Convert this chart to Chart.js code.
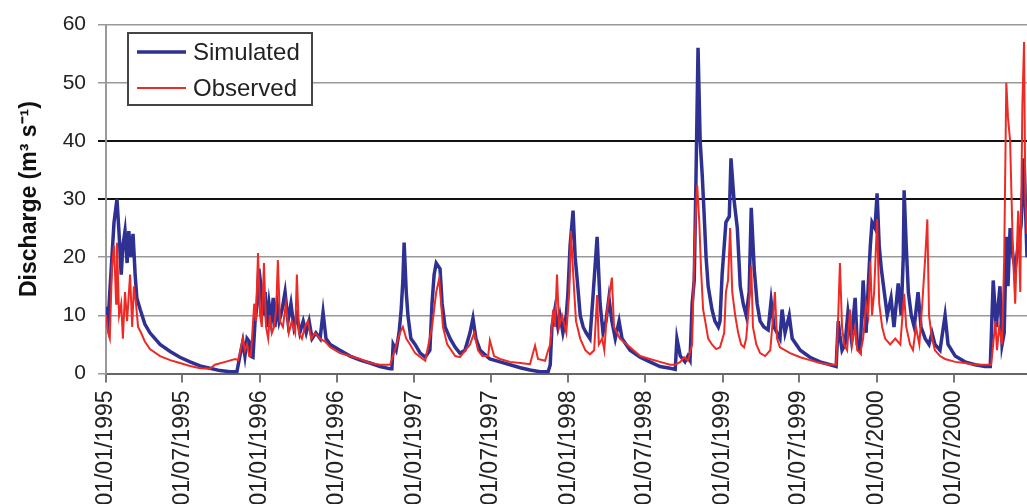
<!DOCTYPE html>
<html>
<head>
  <meta charset="UTF-8">
  <title>Discharge - simulated vs observed</title>
  <script src="https://cdn.jsdelivr.net/npm/chart.js"></script>
  <style>
    body {
      margin: 0;
      background: #fff;
      overflow: hidden;
    }
    .wrap {
      position: relative;
      width: 1027px;
      height: 520px;
    }
  </style>
</head>
<body>
  <div class="wrap"><canvas id="flowChart"></canvas></div>

  <script>
    // x values are days since 01/01/1995
    const tickDays = [0, 181, 365, 546, 730, 911, 1095, 1276, 1460, 1641, 1826, 2008];
    const tickLabels = ['01/01/1995', '01/07/1995', '01/01/1996', '01/07/1996', '01/01/1997', '01/07/1997',
      '01/01/1998', '01/07/1998', '01/01/1999', '01/07/1999', '01/01/2000', '01/07/2000'];
    const yTicks = [0, 10, 20, 30, 40, 50, 60];

    // [day, discharge m3/s]
    const simulated = [
      [0,11.5],[5,9],[9,14],[14,20],[19,26],[26,30],[31,24],[36,17],[40,22],[45,24.5],[50,19],[54,24.5],[59,20],[64,24],[69,17],[73,13],[81,11],[92,8.5],[104,7],[128,5],[152,3.8],[175,2.8],[199,2],[223,1.3],[246,0.9],[270,0.5],[294,0.3],[310,0.3],[317,3],[324,5.5],[329,3],[334,6],[339,5.5],[343,3],[348,2.8],[353,9],[358,12],[362,18],
      [367,15],[372,10],[377,14],[381,8],[386,12],[391,9],[396,13],[400,8],[405,12],[410,9],[417,11],[424,14],[431,9],[438,12],[445,8],[452,10],[459,7],[467,9],[474,7],[481,9],[488,6],[497,7],[507,6],[514,10.5],[521,6],[531,5],[554,4],[578,3],[602,2.3],[625,1.8],[649,1.2],[673,0.8],[677,0.8],[680,5],[687,4],[694,7],[699,11],[703,16],[706,22.5],[711,14],[715,10],[722,6],
      [732,5],[744,3.5],[756,2.8],[767,4],[772,12],[777,17],[782,19],[791,18],[796,12],[803,8],[815,6],[827,4.5],[838,3.5],[850,4],[862,7],[869,9.5],[876,6],[886,4],[909,2.5],[933,2],[957,1.5],[981,1],[1004,0.6],[1028,0.3],[1047,0.3],[1052,1.5],[1056,8],[1063,11],[1070,8],[1075,10],[1082,7],[1090,10],[1094,14],
      [1099,22],[1106,28],[1111,20],[1116,16],[1123,10],[1130,8],[1137,7],[1146,6],[1153,13],[1163,23.5],[1170,12],[1177,7],[1184,9],[1191,13],[1198,9],[1206,6],[1215,9],[1222,6],[1241,4],[1265,2.8],[1288,2],[1312,1.2],[1336,0.9],[1348,0.7],[1352,6],[1360,3],[1371,2],[1378,3],[1383,2.3],[1388,12],[1393,16],[1397,33],[1402,56],[1407,40],[1412,34],[1416,28],[1421,20],[1426,15],[1435,11],[1442,9],[1450,8],
      [1454,9],[1459,17],[1464,22],[1468,26],[1476,27],[1480,37],[1487,30],[1495,25],[1502,15],[1509,12],[1516,10],[1523,14],[1528,28.5],[1535,18],[1542,12],[1549,9],[1558,8],[1568,7.5],[1575,12.5],[1582,8],[1589,7],[1596,6],[1601,11],[1608,7],[1618,10],[1625,6],[1644,4],[1667,2.8],[1691,2],[1715,1.5],[1729,1.2],[1734,9],[1738,6.5],[1743,4],[1750,5],[1757,10.5],[1765,6],[1774,13],[1779,5],[1786,4],[1793,16],[1800,7],[1805,15],[1810,22],[1814,26],[1821,25],[1826,31],
      [1831,22],[1836,18],[1843,14],[1850,10],[1859,13],[1866,8],[1876,15.5],[1883,10],[1888,20],[1890,31.5],[1895,22],[1900,14],[1907,10],[1914,8],[1923,14],[1930,8],[1940,6],[1949,5],[1956,7],[1963,5],[1975,4],[1987,10],[1994,5],[2011,3],[2034,2],[2058,1.5],[2082,1.2],[2094,1.2],[2101,16],[2108,8],[2117,15],[2122,5],[2127,7],[2132,23.5],[2136,15],[2141,25],[2148,20],[2153,18],[2160,22],[2167,25.5],[2174,37],[2181,20]
    ];

    const observed = [
      [0,10],[5,7],[9,6],[14,18],[19,22],[24,12],[26,22.5],[31,10],[36,12],[40,6],[45,14],[50,9],[57,17],[62,8],[66,15],[71,12],[76,8],[83,7],[92,5.5],[104,4.2],[128,3],[152,2.3],[175,1.8],[199,1.3],[223,0.9],[246,0.8],[258,1.5],[282,2],[306,2.5],[313,2.3],[317,3.5],[324,6],[329,4],[334,5],[339,3],[343,3],[351,12],[355,9],[360,20.7],
      [365,10],[369,8],[374,19],[379,8],[384,6],[388,10],[393,7],[398,8],[403,11],[407,19.5],[412,9],[419,8],[426,12],[433,7],[440,9],[448,7],[452,17],[457,7],[464,6],[471,8],[478,9],[486,6],[495,7],[507,6],[519,5.5],[531,4.5],[554,3.5],[578,3],[602,2.5],[625,1.8],[649,1.5],[673,1.5],[684,4],[696,7],[703,8],[711,6],[720,5],
      [732,3.5],[756,2.2],[772,8],[782,14],[789,16.3],[798,8],[808,5],[827,3],[838,2.8],[862,5],[872,7],[881,4],[891,3],[905,3],[909,5.7],[919,3],[933,2.5],[957,2],[981,1.8],[1004,1.6],[1016,4.8],[1023,2.5],[1040,2.2],[1047,4],[1052,5],[1059,11],[1063,8],[1068,17],[1073,8],[1080,10],[1090,7],
      [1097,14],[1101,24.5],[1108,15],[1113,9],[1123,6],[1135,4],[1146,3.3],[1156,4],[1163,13.5],[1167,5],[1175,6],[1180,4],[1187,11],[1198,16.5],[1203,8],[1210,7],[1217,6],[1241,4.5],[1265,3],[1288,2.5],[1312,2],[1336,1.5],[1348,1.5],[1360,2],[1369,2.8],[1378,2.2],[1388,5],[1393,20],[1397,28],[1400,32.4],[1405,26],[1409,18],[1414,11],[1419,9],[1426,6],[1435,5],[1445,4.2],
      [1454,4.5],[1464,7],[1468,14],[1473,16],[1478,25],[1483,14],[1490,10],[1497,7],[1504,5],[1511,4.5],[1516,6],[1523,12],[1528,18.5],[1532,8],[1540,5],[1549,3.5],[1561,3],[1573,4],[1580,10],[1584,14],[1589,6],[1596,4.5],[1620,3.5],[1644,2.8],[1667,2.3],[1691,1.8],[1715,1.5],[1729,1.5],[1734,10],[1738,19],[1743,8],[1748,5],[1755,4],[1762,11],[1767,5],[1774,8],[1779,4],[1786,3.5],[1793,6],[1800,12],[1805,10],[1810,19.3],[1814,10],[1819,14],[1826,26.5],
      [1831,12],[1838,8],[1845,6],[1857,5],[1869,6],[1881,5],[1890,13.7],[1895,8],[1904,5],[1911,4],[1918,8],[1926,5],[1933,12],[1940,20],[1945,26.5],[1949,10],[1956,6],[1963,4],[1975,3],[1987,2.5],[2011,2],[2034,1.8],[2058,1.5],[2082,1.5],[2096,1.5],[2101,5],[2106,9],[2110,4],[2115,8],[2122,5],[2127,20],[2132,50],[2136,44],[2141,40],[2148,20],[2153,12],[2160,28],[2165,14],[2170,46],[2174,57],[2177,30],[2181,24]
    ];

    const FONT = '"Liberation Sans", Arial, sans-serif';

    // boxed legend in the top-left corner of the plot
    const boxLegend = {
      id: 'boxLegend',
      afterDraw(chart) {
        const ctx = chart.ctx;
        ctx.save();
        ctx.fillStyle = '#fff';
        ctx.fillRect(128, 33, 184, 72);
        ctx.strokeStyle = '#444';
        ctx.lineWidth = 2;
        ctx.strokeRect(128, 33, 184, 72);
        ctx.font = '24px ' + FONT;
        ctx.textBaseline = 'middle';
        chart.data.datasets.forEach((ds, i) => {
          const y = 52 + i * 36;
          ctx.strokeStyle = ds.borderColor;
          ctx.lineWidth = ds.borderWidth;
          ctx.beginPath();
          ctx.moveTo(137, y);
          ctx.lineTo(186, y);
          ctx.stroke();
          ctx.fillStyle = '#222';
          ctx.fillText(ds.label, 193, y + 1);
        });
        ctx.restore();
      }
    };

    const isDark = c => c.tick && (c.tick.value === 30 || c.tick.value === 40);

    new Chart(document.getElementById('flowChart'), {
      type: 'line',
      data: {
        datasets: [{
          label: 'Simulated',
          data: simulated.map(p => ({ x: p[0], y: p[1] })),
          borderColor: '#2e3192',
          borderWidth: 3.5,
          order: 1
        }, {
          label: 'Observed',
          data: observed.map(p => ({ x: p[0], y: p[1] })),
          borderColor: '#ee2a24',
          borderWidth: 2,
          order: 0
        }]
      },
      options: {
        responsive: true,
        maintainAspectRatio: false,
        animation: false,
        layout: { padding: { top: 22, right: 0, bottom: 0, left: 0 } },
        elements: { point: { radius: 0 }, line: { tension: 0 } },
        plugins: {
          legend: { display: false },
          tooltip: { enabled: false }
        },
        scales: {
          x: {
            type: 'linear',
            min: 0,
            max: 2181,
            afterBuildTicks: s => { s.ticks = tickDays.map(v => ({ value: v })); },
            afterFit: s => { s.height = 146.5; },
            ticks: {
              autoSkip: false,
              minRotation: 90,
              maxRotation: 90,
              padding: 8,
              color: '#222',
              font: { family: FONT, size: 23 },
              callback: (v, i) => tickLabels[i]
            },
            grid: { drawOnChartArea: false, tickLength: 9, color: '#777', lineWidth: 2 },
            border: { color: '#666', width: 2 }
          },
          y: {
            min: 0,
            max: 60,
            afterBuildTicks: s => { s.ticks = yTicks.map(v => ({ value: v })); },
            afterFit: s => { s.width = 106; },
            ticks: {
              padding: 12,
              color: '#222',
              font: { family: FONT, size: 21 }
            },
            grid: {
              color: c => isDark(c) ? '#111' : '#999',
              lineWidth: c => isDark(c) ? 2 : 1.5,
              tickLength: 8
            },
            border: { color: '#999', width: 2 },
            title: {
              display: true,
              text: 'Discharge (m³ s⁻¹)',
              color: '#111',
              font: { family: FONT, size: 23, weight: 'bold' },
              padding: { top: 16, bottom: 0 }
            }
          }
        }
      },
      plugins: [boxLegend]
    });
  </script>
</body>
</html>
